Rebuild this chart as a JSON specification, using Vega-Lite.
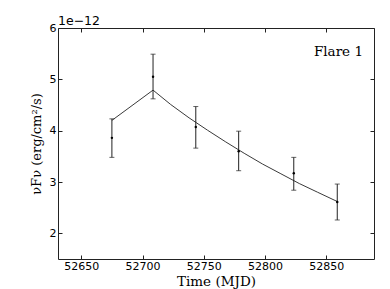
{
  "$schema": "https://vega.github.io/schema/vega-lite/v6.json",
  "width": 316,
  "height": 231,
  "autosize": "none",
  "padding": {"left": 58, "top": 28, "right": 16, "bottom": 30},
  "background": "white",
  "config": {
    "view": {"stroke": "#222", "strokeWidth": 1},
    "axis": {
      "domain": false,
      "grid": false,
      "tickSize": -4,
      "tickColor": "#222",
      "labelFont": "DejaVu Sans",
      "labelFontSize": 11,
      "labelColor": "#000",
      "titleFont": "DejaVu Serif",
      "titleFontSize": 13,
      "titleFontWeight": "normal",
      "titleColor": "#000"
    }
  },
  "datasets": {
    "obs": [
      {"t": 52675, "f": 3.86, "lo": 3.48, "hi": 4.23},
      {"t": 52708.6, "f": 5.05, "lo": 4.62, "hi": 5.49},
      {"t": 52743.5, "f": 4.07, "lo": 3.66, "hi": 4.47},
      {"t": 52778.5, "f": 3.6, "lo": 3.22, "hi": 3.99},
      {"t": 52823.5, "f": 3.17, "lo": 2.84, "hi": 3.48},
      {"t": 52859, "f": 2.61, "lo": 2.26, "hi": 2.96}
    ],
    "model": [
      {"t": 52675, "m": 4.2},
      {"t": 52708.6, "m": 4.79},
      {"t": 52723, "m": 4.51},
      {"t": 52738, "m": 4.25},
      {"t": 52753, "m": 4.01},
      {"t": 52768, "m": 3.78},
      {"t": 52783, "m": 3.56},
      {"t": 52798, "m": 3.35},
      {"t": 52813, "m": 3.16},
      {"t": 52828, "m": 2.97},
      {"t": 52843, "m": 2.8},
      {"t": 52859, "m": 2.62}
    ],
    "labels": [
      {"t": 52880, "y": 5.455, "txt": "Flare 1"}
    ],
    "offset": [
      {"t": 52631, "y": 6, "txt": "1e\u221212"}
    ]
  },
  "resolve": {"axis": {"x": "independent", "y": "independent"}},
  "layer": [
    {
      "data": {"name": "model"},
      "mark": {"type": "line", "color": "#3a3a3a", "strokeWidth": 1},
      "encoding": {
        "x": {"field": "t", "type": "quantitative",
              "scale": {"domain": [52631, 52889], "nice": false, "zero": false},
              "axis": {"values": [52650, 52700, 52750, 52800, 52850], "format": "d", "title": "Time (MJD)", "labelPadding": 5, "titleFontSize": 13.5, "titleY": 26, "titleBaseline": "alphabetic"}},
        "y": {"field": "m", "type": "quantitative",
              "scale": {"domain": [1.5, 6], "nice": false, "zero": false},
              "axis": {"values": [2, 3, 4, 5, 6], "format": "d", "title": "\u03bdF\u03bd (erg/cm\u00b2/s)", "labelPadding": 6, "titleX": -15, "titleBaseline": "bottom"}}
      }
    },
    {
      "data": {"name": "obs"},
      "mark": {"type": "errorbar", "ticks": {"size": 5, "color": "#222"}, "color": "#222", "thickness": 1},
      "encoding": {
        "x": {"field": "t", "type": "quantitative", "axis": null},
        "y": {"field": "lo", "type": "quantitative", "axis": null},
        "y2": {"field": "hi"}
      }
    },
    {
      "data": {"name": "obs"},
      "mark": {"type": "point", "filled": true, "color": "#000", "size": 6, "opacity": 1},
      "encoding": {
        "x": {"field": "t", "type": "quantitative", "axis": null},
        "y": {"field": "f", "type": "quantitative", "axis": null}
      }
    },
    {
      "data": {"name": "labels"},
      "mark": {"type": "text", "align": "right", "baseline": "alphabetic", "font": "DejaVu Serif", "fontSize": 13.5, "fontWeight": "normal", "color": "#000"},
      "encoding": {
        "x": {"field": "t", "type": "quantitative", "axis": null},
        "y": {"field": "y", "type": "quantitative", "axis": null},
        "text": {"field": "txt"}
      }
    },
    {
      "data": {"name": "offset"},
      "mark": {"type": "text", "align": "left", "baseline": "alphabetic", "dy": -3, "font": "DejaVu Sans", "fontSize": 12.5, "color": "#000", "clip": false},
      "encoding": {
        "x": {"field": "t", "type": "quantitative", "axis": null},
        "y": {"field": "y", "type": "quantitative", "axis": null},
        "text": {"field": "txt"}
      }
    },
    {
      "data": {"name": "model"},
      "mark": {"type": "point", "opacity": 0},
      "encoding": {
        "x": {"field": "t", "type": "quantitative",
              "axis": {"orient": "top", "values": [52650, 52700, 52750, 52800, 52850], "labels": false, "title": null}},
        "y": {"field": "m", "type": "quantitative",
              "axis": {"orient": "right", "values": [2, 3, 4, 5, 6], "labels": false, "title": null}}
      }
    }
  ]
}
